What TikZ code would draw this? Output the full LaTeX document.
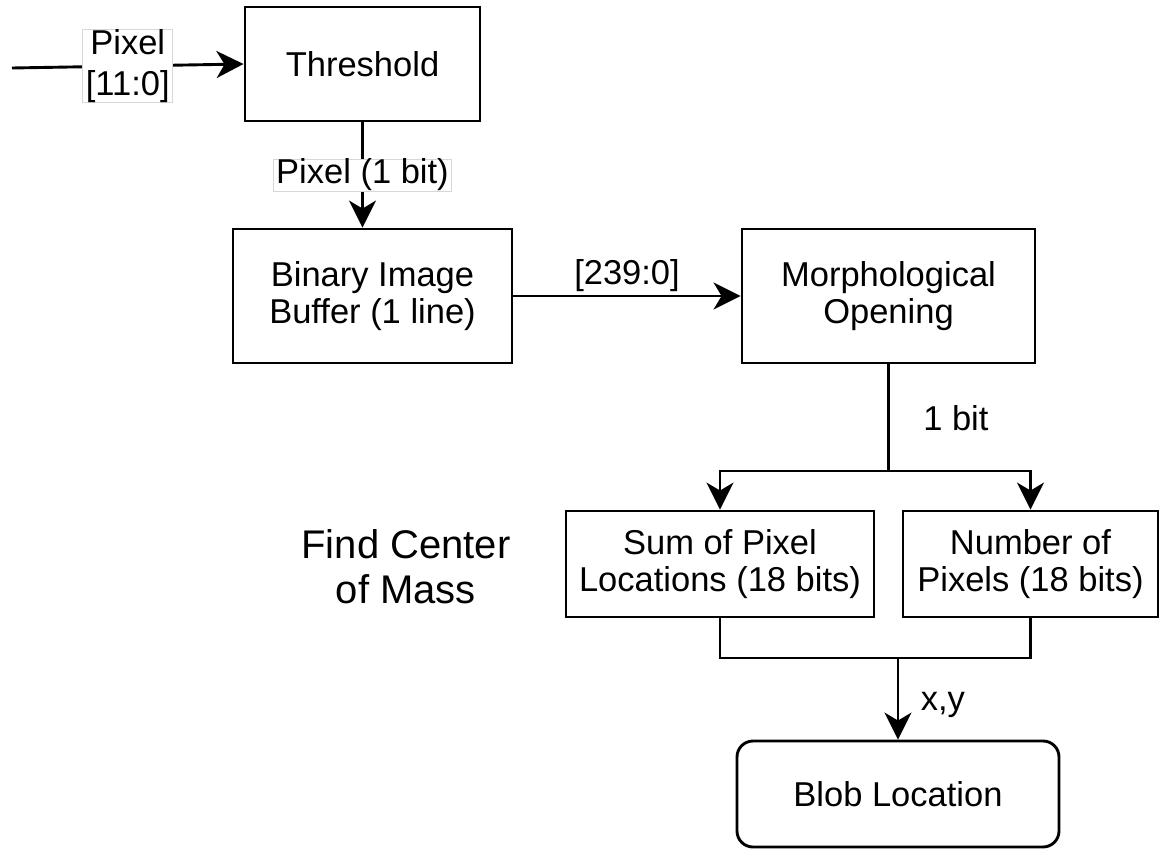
\documentclass[tikz,border=0pt]{standalone}
\usepackage{fontspec}
\setmainfont{Liberation Sans}
\usetikzlibrary{arrows.meta,positioning,calc}
\definecolor{LabelGray}{RGB}{215,215,215}

\begin{document}
\begin{tikzpicture}[x=1pt,y=-1pt,line width=2.9pt,
    >={Stealth[length=27pt,width=27pt,inset=8pt]},
    blk/.style={draw,align=center,font=\fontsize{34.5}{37}\selectfont},
    lbl/.style={align=center,font=\fontsize{34.5}{41}\selectfont},
    tag/.style={lbl,draw=LabelGray,line width=0.8pt,fill=white,inner xsep=3pt,inner ysep=0pt}]
  \useasboundingbox (0,0) rectangle (1160,849);
  % blocks
  \node[blk,minimum width=235pt,minimum height=114pt] (thresh) at (362.5,64) {Threshold};
  \node[blk,minimum width=279pt,minimum height=134pt] (bin) at (372.5,296) {Binary Image\\Buffer (1 line)};
  \node[blk,minimum width=293pt,minimum height=134pt] (morph) at (888.5,296) {Morphological\\Opening};
  \node[blk,minimum width=308pt,minimum height=106pt] (sum) at (720,564) {Sum of Pixel\\Locations (18 bits)};
  \node[blk,minimum width=255pt,minimum height=106pt] (num) at (1030.5,564) {Number of\\Pixels (18 bits)};
  \node[blk,rounded corners=16pt,minimum width=322pt,minimum height=106pt] (blob) at (898,794) {Blob Location};
  \node[lbl,font=\fontsize{40}{45}\selectfont] (com) at (406,567) {Find Center\\of Mass};
  % connectors
  \coordinate (src) at (12,68);
  \draw[->] (src) -- node[tag] (pixin) {Pixel\\{[11:0]}} (thresh.west);
  \draw[->] (thresh.south) -- node[tag] (pixbit) {Pixel (1 bit)} (thresh.south |- bin.north);
  \draw[->] (bin.east |- morph.west) -- node[lbl,above] (bus) {[239:0]} (morph.west);
  \coordinate (split) at (888.5,471);
  \draw (morph.south) -- node[lbl,right=30pt] (onebit) {1 bit} (split);
  \draw[->] (split) -| (sum.north);
  \draw[->] (split) -| (num.north);
  \coordinate (merge) at (898,658);
  \draw (sum.south) |- (merge) -| (num.south);
  \draw[->] (merge) -- node[lbl,right=18pt,yshift=-6pt] (xy) {x,y} (blob.north);
\end{tikzpicture}
\end{document}
